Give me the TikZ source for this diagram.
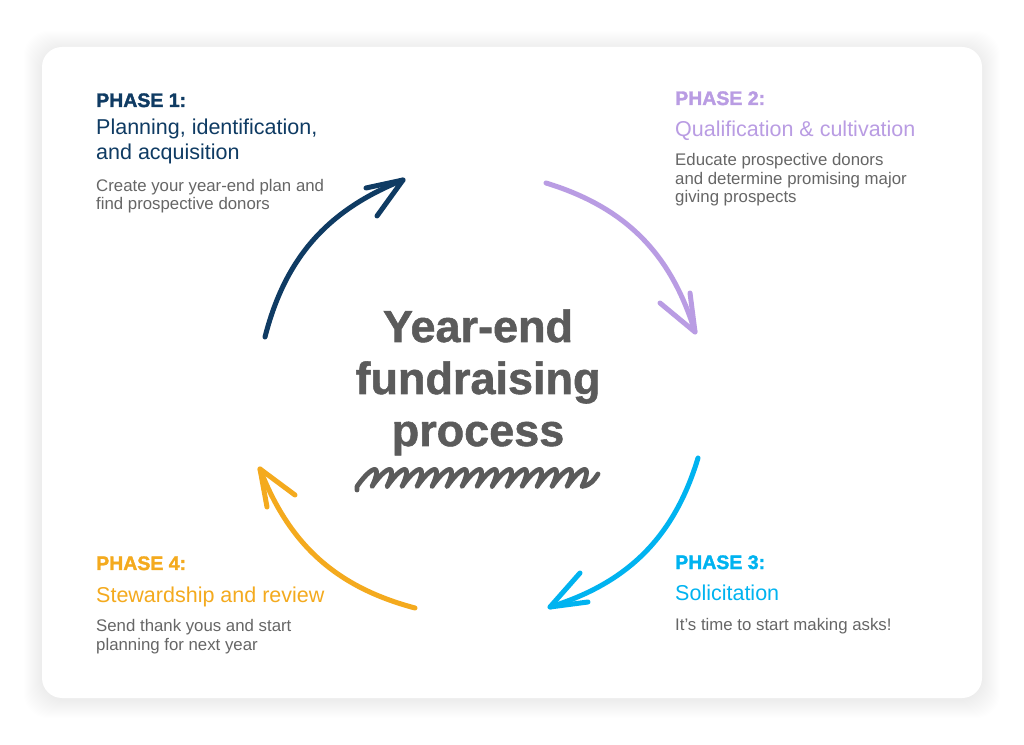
\documentclass[tikz,border=0pt]{standalone}
\usepackage{fontspec}
\setmainfont{Liberation Sans}
\newfontfamily\heavyfont[FakeBold=1.2]{Liberation Sans Bold}
\newfontfamily\labelfont[FakeBold=1.8]{Liberation Sans Bold}
\definecolor{navy}{HTML}{0F3B63}
\definecolor{lav}{HTML}{B99CE3}
\definecolor{cyanb}{HTML}{00B3F0}
\definecolor{orng}{HTML}{F4AA1E}
\definecolor{bodygray}{HTML}{666666}
\definecolor{titlegray}{HTML}{5B5B5B}
\tikzset{
  phaselabel/.style={anchor=base west, inner sep=0pt, font=\labelfont\fontsize{19.5}{22}\selectfont},
  subtitle/.style={anchor=base west, inner sep=0pt, align=left, font=\fontsize{21.5}{25}\selectfont},
  bodytext/.style={anchor=base west, inner sep=0pt, align=left, text=bodygray, font=\fontsize{16.8}{18.5}\selectfont},
  arcline/.style={line width=5pt, line cap=round, line join=round},
  squig/.style={line width=4.8pt, line cap=round, line join=round, titlegray},
}
\begin{document}
\begin{tikzpicture}[x=1pt,y=1pt]
\useasboundingbox (0,0) rectangle (1024,744);
\fill[white] (0,0) rectangle (1024,744);
% soft shadow of the card
\foreach \i in {1,...,18}{
  \fill[black, opacity=0.0035, rounded corners=24pt] (42-\i,44-\i) rectangle (982+\i,695+\i);
}
% card
\fill[white, rounded corners=20pt] (42,46) rectangle (982,697);

% Phase 1 (multi-line nodes are anchored at the baseline of their last line)
\node[phaselabel, text=navy] (p1l) at (96,637) {PHASE 1:};
\node[subtitle, text=navy] (p1s) at (96,584) {Planning, identification,\\and acquisition};
\node[bodytext] (p1b) at (96,534) {Create your year-end plan and\\find prospective donors};

% Phase 2
\node[phaselabel, text=lav] (p2l) at (675,639) {PHASE 2:};
\node[subtitle, text=lav] (p2s) at (675,607) {Qualification \& cultivation};
\node[bodytext] (p2b) at (675,541) {Educate prospective donors\\and determine promising major\\giving prospects};

% Phase 3
\node[phaselabel, text=cyanb] (p3l) at (675,175) {PHASE 3:};
\node[subtitle, text=cyanb] (p3s) at (675,144) {Solicitation};
\node[bodytext] (p3b) at (675,114) {It’s time to start making asks!};

% Phase 4
\node[phaselabel, text=orng] (p4l) at (96,174) {PHASE 4:};
\node[subtitle, text=orng] (p4s) at (96,142) {Stewardship and review};
\node[bodytext] (p4b) at (96,94) {Send thank yous and start\\planning for next year};

% centre title
\node[anchor=base, inner sep=0pt, align=center, text=titlegray,
      font=\heavyfont\fontsize{45}{52}\selectfont] (title) at (478,298)
  {Year-end\\fundraising\\process};

% squiggle
\draw[squig] (357,254) -- plot[domain=0:15, samples=650, variable=\u]
  ({362 + 15*\u - 2.2*sin(360*\u) - 5*cos(360*\u)}, {266 - 8.5*cos(360*\u)})
  .. controls (591,259) and (594,264) .. (598,270);

% arrow 1 (navy)
\coordinate (s1) at (265,407); \coordinate (t1) at (403,564);
\coordinate (b1a) at (366,556); \coordinate (b1b) at (377,528);
\draw[arcline, navy] (s1) to[bend left=27] (t1);
\draw[arcline, navy] (b1a) -- (t1) -- (b1b);

% arrow 2 (lavender)
\coordinate (s2) at (546,561); \coordinate (t2) at (695,412);
\coordinate (b2a) at (660,441); \coordinate (b2b) at (690,451);
\draw[arcline, lav] (s2) to[bend left=28] (t2);
\draw[arcline, lav] (b2a) -- (t2) -- (b2b);

% arrow 3 (cyan)
\coordinate (s3) at (698,286); \coordinate (t3) at (550,137);
\coordinate (b3a) at (580,171); \coordinate (b3b) at (588,142);
\draw[arcline, cyanb] (s3) to[bend left=28] (t3);
\draw[arcline, cyanb] (b3a) -- (t3) -- (b3b);

% arrow 4 (orange)
\coordinate (s4) at (415,136); \coordinate (t4) at (260,275);
\coordinate (b4a) at (267,237); \coordinate (b4b) at (295,249);
\draw[arcline, orng] (s4) to[bend left=27] (t4);
\draw[arcline, orng] (b4a) -- (t4) -- (b4b);
\end{tikzpicture}
\end{document}
